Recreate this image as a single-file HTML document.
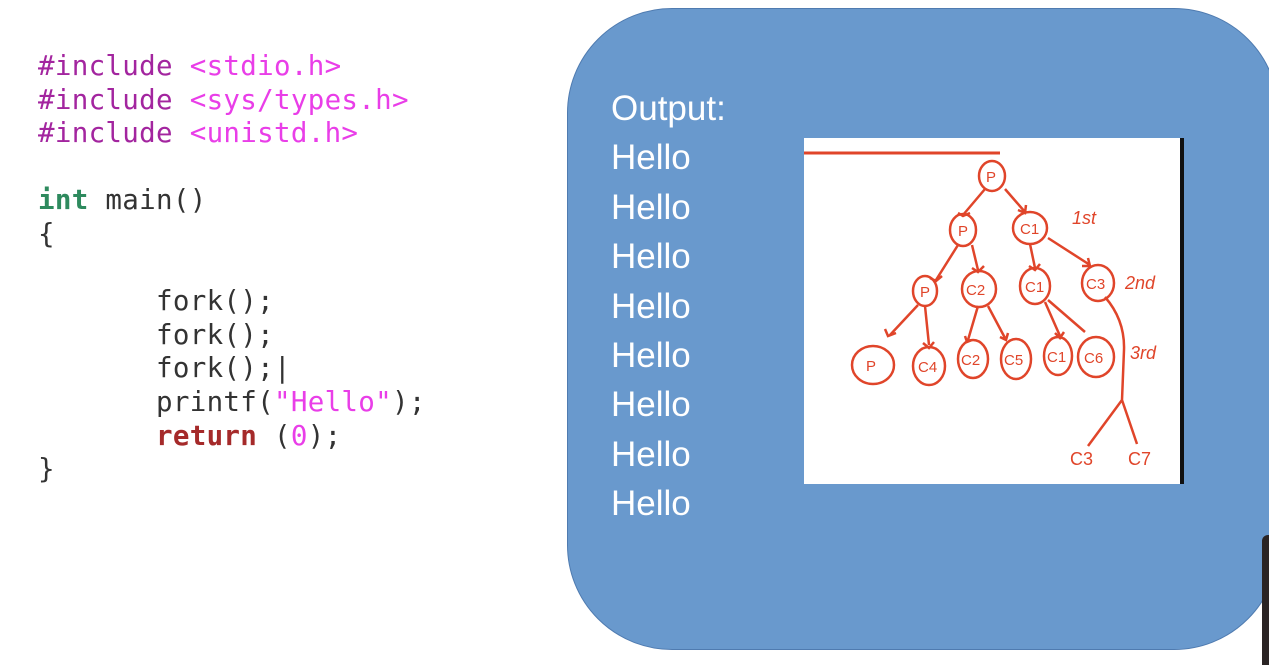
<!DOCTYPE html>
<html><head><style>
body{margin:0;width:1269px;height:657px;overflow:hidden;background:#fff;position:relative;font-family:"Liberation Sans",sans-serif}
.code{position:absolute;left:38px;top:50px;font-family:"DejaVu Sans Mono","Liberation Mono",monospace;font-size:27.5px;letter-spacing:0.3px;line-height:33.6px;white-space:pre;color:#333}
.pp{color:#a3259f}.str{color:#e93ee8}.kw{color:#2e8a5e;font-weight:bold}.rt{color:#a52a2a;font-weight:bold}
.box{position:absolute;left:567px;top:8px;width:712px;height:642px;border-radius:105px;background:#6999cd;border:1px solid #4f7bb0;box-sizing:border-box}
.out{position:absolute;left:611px;top:84px;color:#fff;font-size:35px;line-height:49.4px}
.img{position:absolute;left:804px;top:138px;width:376px;height:346px;background:#fff;border-right:4px solid #111}
.dark{position:absolute;left:1262px;top:535px;width:20px;height:130px;background:#2a2424;border-radius:6px 0 0 0}
</style></head><body>
<div class="code"><span class="pp">#include</span> <span class="str">&lt;stdio.h&gt;</span>
<span class="pp">#include</span> <span class="str">&lt;sys/types.h&gt;</span>
<span class="pp">#include</span> <span class="str">&lt;unistd.h&gt;</span>

<span class="kw">int</span> main()
{

       fork();
       fork();
       fork();|
       printf(<span class="str">"Hello"</span>);
       <span class="rt">return</span> (<span class="str">0</span>);
}</div>
<div class="box"></div>
<div class="dark"></div>
<div class="out">Output:<br>Hello<br>Hello<br>Hello<br>Hello<br>Hello<br>Hello<br>Hello<br>Hello</div>
<div class="img">
<svg width="376" height="346" viewBox="804 138 376 346" style="position:absolute;left:0;top:0" fill="none" stroke="#e0452a" stroke-width="2.5">
<line x1="804" y1="153" x2="1000" y2="153" stroke-width="3"/>
<g>
<ellipse cx="992" cy="176" rx="13" ry="15"/>
<ellipse cx="963" cy="230" rx="13" ry="16"/>
<ellipse cx="1030" cy="228" rx="17" ry="16"/>
<ellipse cx="925" cy="291" rx="12" ry="15"/>
<ellipse cx="979" cy="289" rx="17" ry="18"/>
<ellipse cx="1035" cy="286" rx="15" ry="18"/>
<ellipse cx="1098" cy="283" rx="16" ry="18"/>
<ellipse cx="873" cy="365" rx="21" ry="19"/>
<ellipse cx="929" cy="366" rx="16" ry="19"/>
<ellipse cx="973" cy="359" rx="15" ry="19"/>
<ellipse cx="1016" cy="359" rx="15" ry="20"/>
<ellipse cx="1058" cy="356" rx="14" ry="19"/>
<ellipse cx="1096" cy="357" rx="18" ry="20"/>
<path d="M985 189 L963 215 M958 213 L963 216 L970 213"/>
<path d="M1005 189 L1025 212 M1018 210 L1025 213 L1026 205"/>
<path d="M958 245 L936 280 M930 278 L936 281 L942 276"/>
<path d="M972 245 L978 270 M972 268 L978 272 L984 266"/>
<path d="M1048 238 L1090 265 M1082 266 L1090 266 L1088 258"/>
<path d="M1030 244 L1035 268 M1029 266 L1035 270 L1040 264"/>
<path d="M918 305 L890 335 M885 329 L888 336 L896 333"/>
<path d="M925 306 L929 345 M923 343 L929 348 L934 342"/>
<path d="M978 306 L968 340 M965 336 L967 342 L972 340"/>
<path d="M988 306 L1005 338 M1000 337 L1006 340 L1008 333"/>
<path d="M1045 302 L1060 336 M1055 333 L1060 338 L1064 332"/>
<path d="M1048 300 L1085 332"/>
<path d="M1105 297 Q1125 320 1124 350 L1122 400 M1122 400 L1088 446 M1122 400 L1137 444"/>
</g>
<g fill="#e0452a" stroke="none" font-family="Liberation Sans,sans-serif" font-size="15">
<text x="986" y="182">P</text><text x="958" y="236">P</text><text x="1020" y="234">C1</text>
<text x="920" y="297">P</text><text x="966" y="295">C2</text><text x="1025" y="292">C1</text><text x="1086" y="289">C3</text>
<text x="866" y="371">P</text><text x="918" y="372">C4</text><text x="961" y="365">C2</text><text x="1004" y="365">C5</text><text x="1047" y="362">C1</text><text x="1084" y="363">C6</text>
<text x="1070" y="465" font-size="18">C3</text><text x="1128" y="465" font-size="18">C7</text>
<text x="1072" y="224" font-size="18" font-style="italic">1st</text>
<text x="1125" y="289" font-size="18" font-style="italic">2nd</text>
<text x="1130" y="359" font-size="18" font-style="italic">3rd</text>
</g>
</svg>
</div>
</body></html>
